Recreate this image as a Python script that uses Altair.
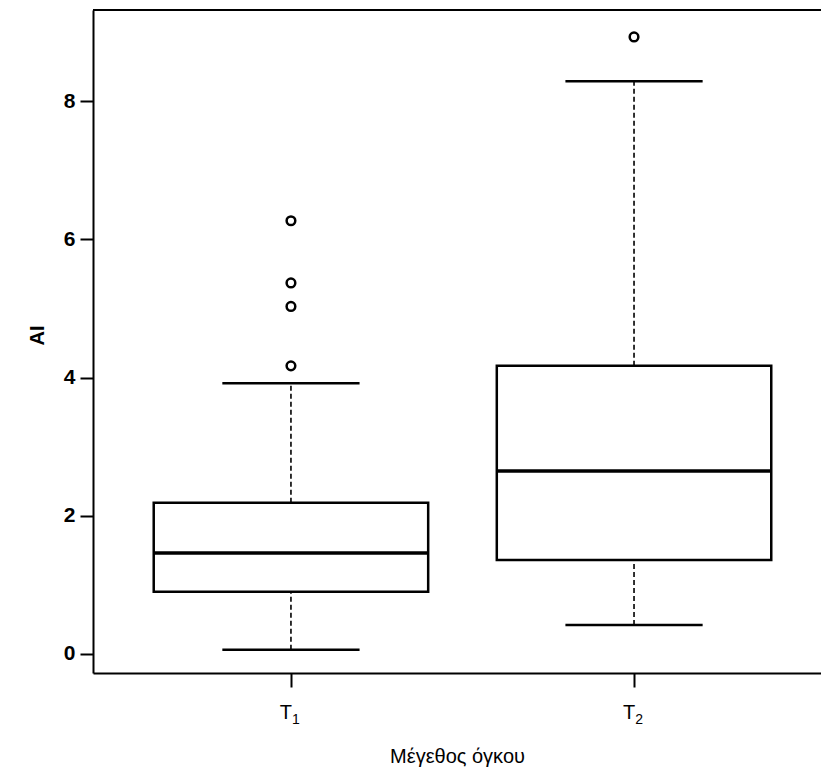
import altair as alt
import pandas as pd

# ---- data ----
groups = ["T", "T"]
subscripts = ["1", "2"]
positions = [1, 2]
q1 = [0.90, 1.36]
median = [1.46, 2.65]
q3 = [2.19, 4.17]
whisker_low = [0.06, 0.42]
whisker_high = [3.92, 8.29]
outlier_group = [1, 1, 1, 1, 2]
outlier_values = [6.27, 5.37, 5.03, 4.17, 8.93]

y_ticks = [0, 2, 4, 6, 8]

box_df = pd.DataFrame({
    "group": groups, "sub": subscripts, "pos": positions, "q1": q1,
    "median": median, "q3": q3, "wlo": whisker_low, "whi": whisker_high,
})
out_df = pd.DataFrame({"pos": outlier_group, "AI": outlier_values})

W, H = 728, 663
xscale = alt.Scale(domain=[0.423, 2.545], nice=False, zero=False)
yscale = alt.Scale(domain=[-0.275, 9.32], nice=False, zero=False)

font = "Liberation Sans"

x_axis = alt.Axis(
    values=positions, labels=False,
    title="Μέγεθος όγκου", grid=False, domain=True, domainColor="black",
    domainWidth=2, tickColor="black", tickWidth=2, tickSize=14,
    titleFont=font, titleFontSize=20, titleFontWeight="normal",
    titleColor="black", titleY=89, titleBaseline="alphabetic",
)
y_axis = alt.Axis(
    values=y_ticks, format="d", title="AI", grid=False, domain=True,
    domainColor="black", domainWidth=2, tickColor="black", tickWidth=2,
    tickSize=13, labelFont=font, labelFontSize=21, labelFontWeight="bold",
    labelColor="black", labelPadding=5, labelFlush=False,
    titleFont=font, titleFontSize=20, titleFontWeight="bold",
    titleColor="black", titleX=-56, titleY=325, titleAngle=-90,
    titleAlign="center", titleBaseline="middle",
)

base = alt.Chart(box_df).transform_calculate(
    xl="datum.pos - 0.4", xr="datum.pos + 0.4",
    cl="datum.pos - 0.2", cr="datum.pos + 0.2",
)

whisk_up = base.mark_rule(color="black", strokeWidth=1.6, strokeDash=[5, 3]).encode(
    x=alt.X("pos:Q", scale=xscale, axis=x_axis),
    y=alt.Y("q3:Q", scale=yscale, axis=y_axis),
    y2="whi:Q",
)
whisk_dn = base.mark_rule(color="black", strokeWidth=1.6, strokeDash=[5, 3]).encode(
    x=alt.X("pos:Q", scale=xscale),
    y=alt.Y("wlo:Q", scale=yscale),
    y2="q1:Q",
)
cap_hi = base.mark_rule(color="black", strokeWidth=2.5).encode(
    x=alt.X("cl:Q", scale=xscale), x2="cr:Q",
    y=alt.Y("whi:Q", scale=yscale),
)
cap_lo = base.mark_rule(color="black", strokeWidth=2.5).encode(
    x=alt.X("cl:Q", scale=xscale), x2="cr:Q",
    y=alt.Y("wlo:Q", scale=yscale),
)
boxes = base.mark_bar(fill="white", stroke="black", strokeWidth=2.5).encode(
    x=alt.X("xl:Q", scale=xscale), x2="xr:Q",
    y=alt.Y("q1:Q", scale=yscale), y2="q3:Q",
)
med = base.mark_rule(color="black", strokeWidth=3.5).encode(
    x=alt.X("xl:Q", scale=xscale), x2="xr:Q",
    y=alt.Y("median:Q", scale=yscale),
)
outs = alt.Chart(out_df).mark_point(
    shape="circle", filled=False, color="black", size=75, strokeWidth=2.5, opacity=1
).encode(
    x=alt.X("pos:Q", scale=xscale),
    y=alt.Y("AI:Q", scale=yscale),
)
lab_main = base.mark_text(
    font=font, fontSize=20, color="black", align="center",
    baseline="alphabetic", dx=-5,
).encode(
    x=alt.X("pos:Q", scale=xscale), y=alt.value(H + 46), text="group:N",
)
lab_sub = base.mark_text(
    font=font, fontSize=14, color="black", align="center",
    baseline="alphabetic", dx=5,
).encode(
    x=alt.X("pos:Q", scale=xscale), y=alt.value(H + 51), text="sub:N",
)
top_line = alt.Chart(box_df).mark_rule(color="black", strokeWidth=2).encode(
    x=alt.value(0), x2=alt.value(W), y=alt.value(0)
)

chart = alt.layer(
    whisk_up, whisk_dn, cap_hi, cap_lo, boxes, med, outs, lab_main, lab_sub, top_line
).properties(
    width=W, height=H,
    autosize=alt.AutoSizeParams(type="none"),
    padding={"left": 93, "top": 10, "right": 0, "bottom": 99},
    background="white",
).configure_view(stroke=None)

chart.save("out.html", embed_options={"renderer": "svg", "actions": False})
